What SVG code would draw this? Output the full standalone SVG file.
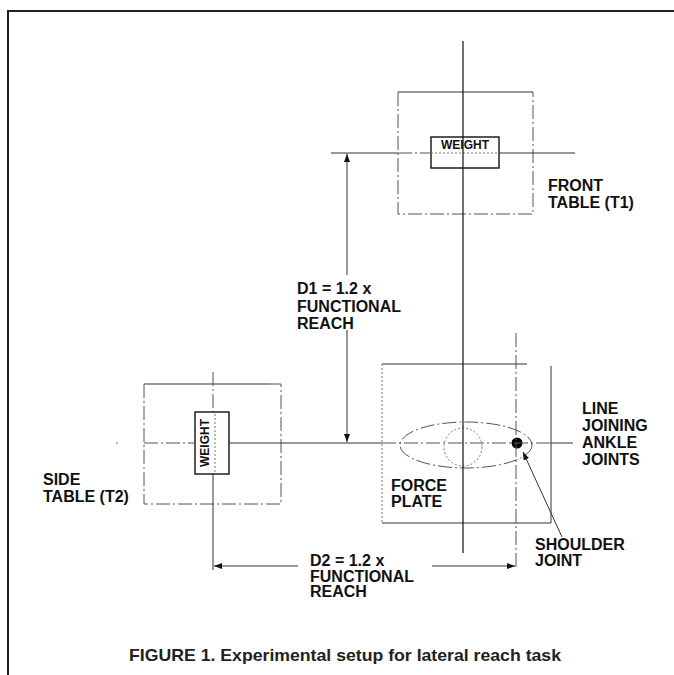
<svg xmlns="http://www.w3.org/2000/svg" width="674" height="675" viewBox="0 0 674 675">
<style>
.ln{stroke:#111;stroke-width:1.2;fill:none}
.th{stroke:#333;stroke-width:1;fill:none}
.dd{stroke:#555;stroke-width:1;stroke-dasharray:14 3 2 3;fill:none}
.dt{stroke:#777;stroke-width:1;stroke-dasharray:2 2;fill:none}
.bx{stroke:#111;stroke-width:1.4;fill:#fff}
.lbl{font-family:"Liberation Sans",Arial,Helvetica,sans-serif;font-weight:bold;font-size:16px;fill:#111}
.wt{font-family:"Liberation Sans",Arial,Helvetica,sans-serif;font-weight:bold;font-size:12px;fill:#111}
.cap{font-family:"Liberation Sans",Arial,Helvetica,sans-serif;font-weight:bold;font-size:17px;fill:#222}
</style>
<defs>
<marker id="ah" markerWidth="8" markerHeight="6" refX="8" refY="3" orient="auto" markerUnits="userSpaceOnUse">
<path d="M0,0 L8,3 L0,6 z" fill="#111"/>
</marker>
</defs>
<rect width="674" height="675" fill="#fff"/>
<g id="frame">
<path d="M8,675 V11 H674" stroke="#222" stroke-width="2" fill="none"/>
</g>
<g id="front-table">
<path class="th" d="M398,92 H533"/>
<path class="dd" d="M398,92 V214 H533 V92"/>
<rect class="bx" x="431" y="137" width="68" height="31"/>
<text class="wt" x="465" y="148.5" text-anchor="middle">WEIGHT</text>
<path class="th" d="M331,153 H398"/>
<path class="dd" d="M398,153 H431"/>
<path class="dt" d="M431,153 H499"/>
<path class="th" d="M499,153 H575"/>
<text class="lbl" x="548" y="190.5">FRONT</text>
<text class="lbl" x="548" y="208">TABLE (T1)</text>
</g>
<g id="side-table">
<path class="th" d="M144,384 H270"/>
<path class="dd" d="M270,384 H281 V504 H144 V384"/>
<path class="dd" d="M213,372 V412"/>
<rect class="bx" x="195" y="412" width="34" height="62"/>
<path class="dt" d="M215,414 V472"/>
<text class="wt" transform="translate(209,443) rotate(-90)" text-anchor="middle">WEIGHT</text>
<path class="th" d="M213,474 V570"/>
<text class="lbl" x="43" y="484.5">SIDE</text>
<text class="lbl" x="43" y="502">TABLE (T2)</text>
</g>
<g id="force-plate">
<path class="th" d="M382,364 H527"/>
<path class="dt" d="M382,364 V523"/>
<path class="th" d="M551,366 V523 H382"/>
<ellipse class="dd" cx="466" cy="445" rx="66" ry="23"/>
<circle class="dt" cx="463" cy="447" r="19"/>
<circle cx="517" cy="443" r="5.5" fill="#000"/>
<text class="lbl" x="391" y="491">FORCE</text>
<text class="lbl" x="391" y="507">PLATE</text>
</g>
<g id="lines">
<path class="ln" d="M463,41 V553"/>
<path class="dd" d="M516,333 V570"/>
<circle cx="117" cy="443" r="0.8" fill="#555"/>
<path class="dd" d="M144,443 H195"/>
<path class="th" d="M229,443 H382"/>
<path class="dd" d="M382,443 H551"/>
<path class="th" d="M551,443 H573"/>
<text class="lbl" x="582" y="413.5">LINE</text>
<text class="lbl" x="582" y="430.5">JOINING</text>
<text class="lbl" x="582" y="447.5">ANKLE</text>
<text class="lbl" x="582" y="464.5">JOINTS</text>
</g>
<g id="connectors">
<path class="th" d="M347,275 V154" marker-end="url(#ah)"/>
<path class="th" d="M347,330 V442" marker-end="url(#ah)"/>
<path class="th" d="M298,566 H214" marker-end="url(#ah)"/>
<path class="th" d="M432,566 H515" marker-end="url(#ah)"/>
<path class="th" d="M562,537 L523,452" marker-end="url(#ah)"/>
</g>
<g id="dim-labels">
<text class="lbl" x="297" y="293.5">D1 = 1.2 x</text>
<text class="lbl" x="297" y="312">FUNCTIONAL</text>
<text class="lbl" x="297" y="329">REACH</text>
<text class="lbl" x="310" y="565.5">D2 = 1.2 x</text>
<text class="lbl" x="310" y="581.5">FUNCTIONAL</text>
<text class="lbl" x="310" y="597">REACH</text>
<text class="lbl" x="535" y="549.5">SHOULDER</text>
<text class="lbl" x="535" y="566">JOINT</text>
</g>
<text class="cap" x="129" y="661" textLength="432" lengthAdjust="spacingAndGlyphs">FIGURE 1. Experimental setup for lateral reach task</text>
</svg>
